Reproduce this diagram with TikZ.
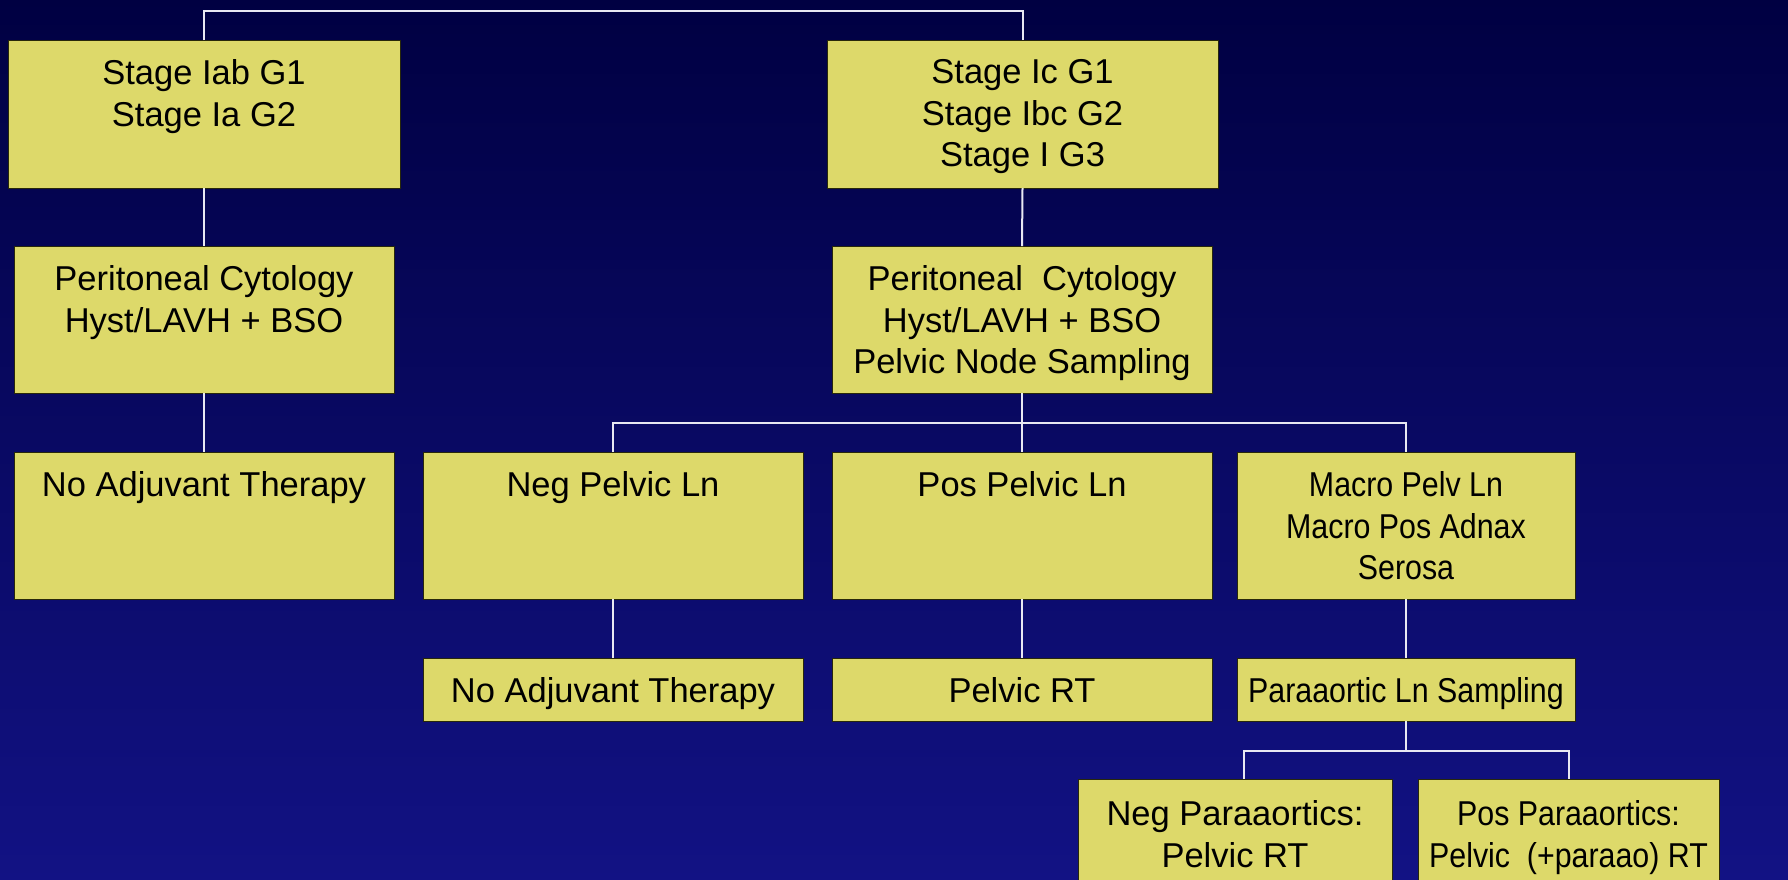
\documentclass[tikz,border=0pt]{standalone}
\usepackage{fontspec}
\setmainfont{Liberation Sans}
\newfontfamily\narrowfont[FakeStretch=0.88]{Liberation Sans}
\usetikzlibrary{calc}
\definecolor{bgtop}{RGB}{0,0,66}
\definecolor{bgbot}{RGB}{18,18,132}
\definecolor{boxfill}{RGB}{221,217,106}
\definecolor{boxline}{RGB}{40,40,10}
\definecolor{conn}{RGB}{232,232,242}
\newcommand\bt[3]{\parbox[c][#2pt][t]{#1pt}{\centering\vspace*{19.5pt}#3\par}}
\tikzset{
  fcbox/.style={draw=boxline, fill=boxfill, line width=1pt, inner sep=0pt, outer sep=0pt,
    font=\fontsize{34.5}{41.5}\selectfont, text=black},
  narrowbox/.style={fcbox, font=\narrowfont\fontsize{34.5}{41.5}\selectfont},
  link/.style={draw=conn, line width=2pt}
}
\begin{document}
\begin{tikzpicture}[x=1pt,y=-1pt]
\clip (0,0) rectangle (1788,879);
\shade[top color=bgtop, bottom color=bgbot] (0,0) rectangle (1788,879);
% row 1
\node[fcbox] (t1) at (204,114) {\bt{392}{148}{Stage Iab G1\\Stage Ia G2}};
\node[fcbox] (t2) at (1022.5,114) {\bt{391}{148}{Stage Ic G1\\Stage Ibc G2\\Stage I G3}};
% row 2
\node[fcbox] (p1) at (204,319.5) {\bt{380}{147}{Peritoneal Cytology\\Hyst/LAVH + BSO}};
\node[fcbox] (p2) at (1022,319.5) {\bt{380}{147}{Peritoneal\ \ Cytology\\Hyst/LAVH + BSO\\Pelvic Node Sampling}};
% row 3
\node[fcbox] (n1) at (204,525.5) {\bt{380}{147}{No Adjuvant Therapy}};
\node[fcbox] (n2) at (613,525.5) {\bt{380}{147}{Neg Pelvic Ln}};
\node[fcbox] (n3) at (1022,525.5) {\bt{380}{147}{Pos Pelvic Ln}};
\node[narrowbox] (n4) at (1406,525.5) {\bt{338}{147}{Macro Pelv Ln\\Macro Pos Adnax\\Serosa}};
% row 4
\node[fcbox] (r2) at (613,689.5) {\bt{380}{63}{No Adjuvant Therapy}};
\node[fcbox] (r3) at (1022,689.5) {\bt{380}{63}{Pelvic RT}};
\node[narrowbox] (r4) at (1406,689.5) {\bt{338}{63}{Paraaortic Ln Sampling}};
% row 5
\node[fcbox] (a1) at (1235,839.5) {\bt{314}{121}{\vspace*{2pt}Neg Paraaortics:\\Pelvic RT}};
\node[narrowbox] (a2) at (1568.5,839.5) {\bt{301}{121}{\vspace*{2pt}Pos Paraaortics:\\Pelvic\ \ (+paraao) RT}};
% bus coordinates
\coordinate (bus0) at (1022.5,11);
\coordinate (bus1) at (1022,423);
\coordinate (bus2l) at (1244,751);
\coordinate (bus2r) at (1568.5,751);
% connectors
\draw[link] (t1.north) |- (bus0) -- (t2.north);
\draw[link] (t1.south) -- (p1.north);
\draw[link] (p1.south) -- (n1.north);
\draw[link] (t2.south) -- (p2.north);
\draw[link] (p2.south) -- (n3.north);
\draw[link] (n2.north) |- (bus1) -| (n4.north);
\draw[link] (n2.south) -- (r2.north);
\draw[link] (n3.south) -- (r3.north);
\draw[link] (n4.south) -- (r4.north);
\draw[link] (r4.south) -- (r4.south |- bus2l);
\draw[link] (a1.north -| bus2l) |- (bus2r) -- (a2.north);
\end{tikzpicture}
\end{document}
